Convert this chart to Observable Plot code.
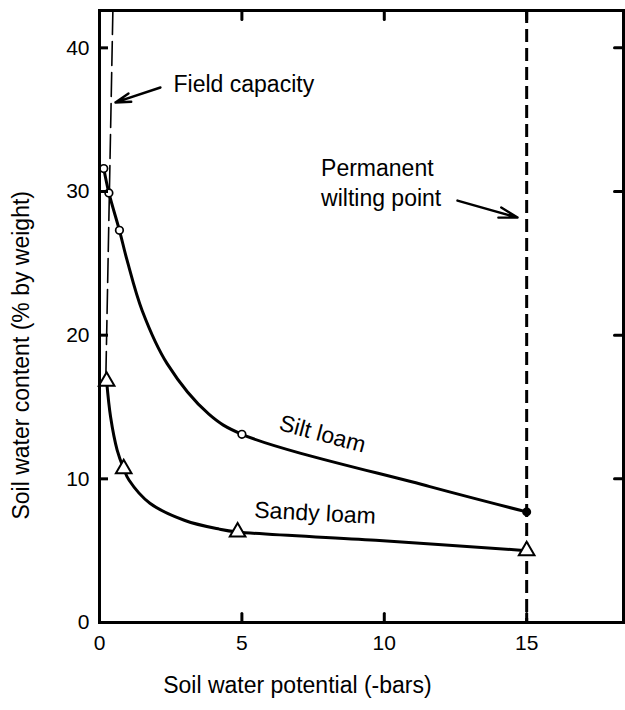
<!DOCTYPE html>
<html><head><meta charset="utf-8">
<script src="https://cdn.jsdelivr.net/npm/d3@7"></script>
<script src="https://cdn.jsdelivr.net/npm/@observablehq/plot@0.6"></script>
<style>body{margin:0;background:#fff;} svg{display:block}</style>
</head><body><div id="chart"></div>
<script>
// ---- data ----
const xTicks = [0, 5, 10, 15];
const yTicks = [0, 10, 20, 30, 40];
const innerXTicks = [5, 10, 15];
const innerYTicks = [10, 20, 30, 40];
const xDomain = [0, 18.4];
const yDomain = [0, 42.6];

// measured points
const siltX = [0.15, 0.33, 0.7, 5, 15];
const siltY = [31.6, 29.9, 27.3, 13.1, 7.7];
const siltFilled = [false, false, false, false, true];
const sandyX = [0.25, 0.85, 4.85, 15];
const sandyY = [16.8, 10.7, 6.3, 5.0];

// drawn smooth curves
const siltCurveX = [0.15, 0.33, 0.7, 0.97, 1.5, 2.38, 3.84, 5, 11.6, 15];
const siltCurveY = [31.6, 29.9, 27.3, 25.2, 21.7, 18.0, 14.5, 13.1, 9.46, 7.7];
const sandyCurveX = [0.25, 0.39, 0.62, 0.85, 1.04, 1.77, 3.0, 4.21, 4.85, 9.7, 15];
const sandyCurveY = [16.8, 14.3, 12.0, 10.7, 9.9, 8.3, 7.1, 6.5, 6.3, 5.72, 5.0];

// reference lines
const fieldCapacityX = [0.47, 0.22];
const fieldCapacityY = [42.6, 16.8];
const wiltingPointX = [15];

// annotations
const noteText = ["Field capacity", "Permanent", "wilting point"];
const noteX = [2.6, 7.78, 7.78];
const noteY = [37.43, 31.6, 29.5];
const curveLabelText = ["Silt loam", "Sandy loam"];
const curveLabelX = [7.83, 7.57];
const curveLabelY = [13.11, 7.6];
const curveLabelRotate = [15, 3];
const arrowX1 = [2.14, 12.57];
const arrowY1 = [37.24, 29.37];
const arrowX2 = [0.56, 14.68];
const arrowY2 = [36.2, 28.19];

const xAxisLabel = "Soil water potential (-bars)";
const yAxisLabel = "Soil water content (% by weight)";
const xAxisLabelX = 6.95;
const yAxisLabelX = -2.75;
const yAxisLabelY = 18.6;

// ---- build ----
const W = 625, H = 710, mL = 99, mR = 2, mT = 10, mB = 88;
const fw = W - mL - mR, fh = H - mT - mB;
const tickLen = 9;
const font = '"Liberation Sans", Arial, Helvetica, sans-serif';
const tx = tickLen * (xDomain[1] - xDomain[0]) / fw;  // tick length in x units
const ty = tickLen * (yDomain[1] - yDomain[0]) / fh;  // tick length in y units

const silt = siltX.map((x, i) => ({x, y: siltY[i], filled: siltFilled[i]}));
const sandy = sandyX.map((x, i) => ({x, y: sandyY[i]}));
const siltCurve = siltCurveX.map((x, i) => ({x, y: siltCurveY[i]}));
const sandyCurve = sandyCurveX.map((x, i) => ({x, y: sandyCurveY[i]}));
const fc = fieldCapacityX.map((x, i) => ({x, y: fieldCapacityY[i]}));
const notes = noteText.map((t, i) => ({t, x: noteX[i], y: noteY[i]}));
const curveLabels = curveLabelText.map((t, i) => ({t, x: curveLabelX[i], y: curveLabelY[i], r: curveLabelRotate[i]}));
const arrows = arrowX1.map((x1, i) => ({x1, y1: arrowY1[i], x2: arrowX2[i], y2: arrowY2[i]}));

// inward tick segments built from the tick lists
const tickPts = [];
innerYTicks.forEach(v => {
  tickPts.push({id: "R" + v, x: xDomain[1], y: v}, {id: "R" + v, x: xDomain[1] - tx, y: v});
});
innerXTicks.forEach(v => {
  tickPts.push({id: "B" + v, x: v, y: yDomain[0]}, {id: "B" + v, x: v, y: yDomain[0] + ty});
  tickPts.push({id: "T" + v, x: v, y: yDomain[1]}, {id: "T" + v, x: v, y: yDomain[1] - ty});
});

const chart = Plot.plot({
  width: W, height: H,
  marginLeft: mL, marginRight: mR, marginTop: mT, marginBottom: mB,
  x: {domain: xDomain},
  y: {domain: yDomain},
  style: {fontFamily: font, fontSize: "21px", color: "#000", background: "#fff"},
  marks: [
    Plot.axisY({ticks: yTicks, tickSize: 0, tickPadding: 10, label: null, fontSize: 21}),
    Plot.axisX({ticks: xTicks, tickSize: 0, tickPadding: 13, label: null, fontSize: 21}),
    Plot.line(fc, {x: "x", y: "y", stroke: "black", strokeWidth: 1.6, strokeDasharray: "24,7"}),
    Plot.ruleX(wiltingPointX, {stroke: "black", strokeWidth: 3, strokeDasharray: "13,6"}),
    Plot.line(siltCurve, {x: "x", y: "y", curve: "catmull-rom", stroke: "black", strokeWidth: 3}),
    Plot.line(sandyCurve, {x: "x", y: "y", curve: "catmull-rom", stroke: "black", strokeWidth: 3}),
    Plot.dot(silt.filter(d => !d.filled), {x: "x", y: "y", r: 3.8, fill: "white", stroke: "black", strokeWidth: 1.7}),
    Plot.dot(silt.filter(d => d.filled), {x: "x", y: "y", r: 4.5, fill: "black"}),
    Plot.dot(sandy, {x: "x", y: "y", symbol: "triangle", r: 5.8, fill: "white", stroke: "black", strokeWidth: 2}),
    Plot.arrow(arrows, {x1: "x1", y1: "y1", x2: "x2", y2: "y2", stroke: "black", strokeWidth: 2.4, headLength: 12, headAngle: 32}),
    Plot.text(notes, {x: "x", y: "y", text: "t", textAnchor: "start", fontSize: 23, fill: "black"}),
    Plot.text(curveLabels, {x: "x", y: "y", text: "t", rotate: "r", textAnchor: "middle", fontSize: 23, fill: "black"}),
    Plot.text([xAxisLabel], {x: xAxisLabelX, frameAnchor: "bottom", dy: 70, text: d => d, fontSize: 23, fill: "black"}),
    Plot.text([yAxisLabel], {x: yAxisLabelX, y: yAxisLabelY, rotate: -90, text: d => d, fontSize: 23, fill: "black"}),
    Plot.frame({stroke: "black", strokeWidth: 3}),
    Plot.line(tickPts, {x: "x", y: "y", z: "id", stroke: "black", strokeWidth: 3}),
    Plot.ruleY(innerYTicks, {y: d => d, x1: xDomain[0], x2: xDomain[0] + tx, stroke: "black", strokeWidth: 3})
  ]
});
document.getElementById("chart").append(chart);
</script>
</body></html>
